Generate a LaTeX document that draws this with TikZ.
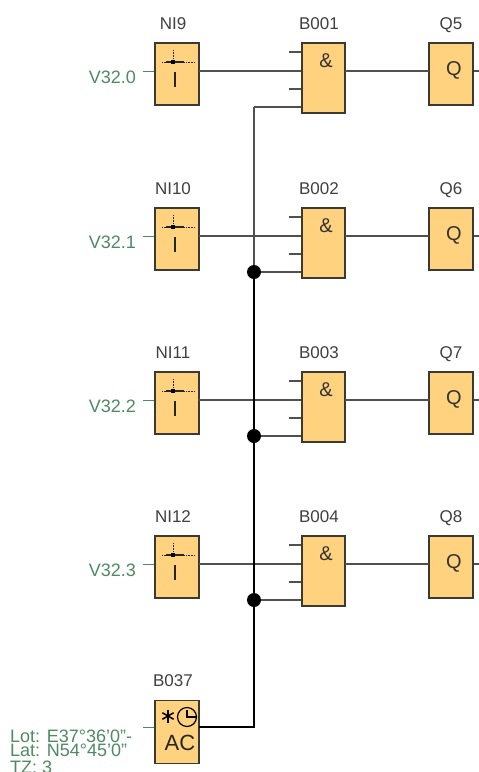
\documentclass[tikz,border=0pt]{standalone}
\usepackage{fontspec}
\setmainfont{Liberation Sans}
\usetikzlibrary{calc}
\definecolor{blockfill}{HTML}{FFD27F}
\definecolor{blockline}{HTML}{3A3A30}
\definecolor{wiregray}{HTML}{505050}
\definecolor{addrgreen}{HTML}{4F8A63}
\tikzset{
  block/.style={draw=blockline,fill=blockfill,line width=1.2pt,inner sep=0pt},
  wire/.style={draw=wiregray,line width=1.3pt},
  bus/.style={draw=black,line width=2.3pt},
  stub/.style={draw=addrgreen,line width=1pt},
  title/.style={font=\fontsize{17}{18}\selectfont,text=black!75,anchor=base},
  addr/.style={font=\fontsize{18}{18}\selectfont,text=addrgreen,inner sep=0pt},
  junction/.style={circle,fill=black,inner sep=0pt,minimum size=14pt}
}
\begin{document}
\begin{tikzpicture}[x=1pt,y=-1pt]
  \useasboundingbox (0,0) rectangle (479,772);
  \fill[white] (0,0) rectangle (479,772);
  % one row of the plan: y, names, titles, address
  \newcommand{\gaterow}[8]{%
    \node[block,minimum width=44pt,minimum height=62pt] (#2) at (177,#1+31) {};
    \node[block,minimum width=43pt,minimum height=70pt] (#3) at (323.5,#1+35) {};
    \node[block,minimum width=44pt,minimum height=62pt] (#4) at (451,#1+31) {};
    \node[title] (#2t) at (173,#1-14) {#5};
    \node[title] (#3t) at (319,#1-14) {#6};
    \node[title] (#4t) at (451,#1-14) {#7};
    \node[addr,anchor=east] (#2a) at (136,#1+34) {#8};
    \coordinate (#2s) at (143,#1+28);
    \coordinate (#2o) at (199,#1+28);
    \coordinate (#3p1) at (289,#1+9);
    \coordinate (#3p2) at (289,#1+27.5);
    \coordinate (#3p3) at (289,#1+46);
    \coordinate (#3p4) at (254,#1+64);
    \coordinate (#3o) at (345,#1+28);
    \coordinate (#4i) at (429,#1+28);
    \coordinate (#4o) at (479,#1+28);
    \draw[stub] (#2s) -- (#2s -| #2.west);
    \draw[wire] (#2o) -- (#2o -| #3.west);
    \draw[wire] (#3p1) -- (#3p1 -| #3.west);
    \draw[wire] (#3p3) -- (#3p3 -| #3.west);
    \draw[wire] (#3p4) -- (#3p4 -| #3.west);
    \draw[wire] (#3o) -- (#4i);
    \draw[wire] (#4.east |- #4o) -- (#4o);
    \node[font=\fontsize{20}{20}\selectfont,text=black!80] (#3g) at (326,#1+18) {\&};
    \node[font=\fontsize{20}{20}\selectfont,text=black!80] (#4g) at (454,#1+27) {Q};
    % input symbol
    \draw[black!85,line width=0.6pt,densely dotted] (162,#1+19) -- (195,#1+19);
    \draw[black!85,line width=1.2pt] (166,#1+19) -- (184,#1+19);
    \draw[black!85,line width=0.6pt,densely dotted] (173,#1+7) -- (173,#1+19);
    \fill[black] (171,#1+17) rectangle (175,#1+21);
    \draw[black!85,line width=1.5pt] (175,#1+29) -- (175,#1+44);
  }
  \gaterow{43}{ni9}{b001}{q5}{NI9}{B001}{Q5}{V32.0}
  \gaterow{208}{ni10}{b002}{q6}{NI10}{B002}{Q6}{V32.1}
  \gaterow{372}{ni11}{b003}{q7}{NI11}{B003}{Q7}{V32.2}
  \gaterow{536}{ni12}{b004}{q8}{NI12}{B004}{Q8}{V32.3}

  \node[block,minimum width=44pt,minimum height=63pt] (b037) at (177,732) {};
  \node[title] (b037t) at (173,686) {B037};
  \node[font=\fontsize{22}{22}\selectfont,text=black!85] (ac) at (180,743) {AC};
  \foreach \a in {0,60,120}
    \draw[black,line width=1.5pt] ($(168,716)+(90+\a:6.5)$) -- ($(168,716)+(270+\a:6.5)$);
  \draw[black,line width=1.2pt] (187,717) circle (9.5);
  \draw[black,line width=1.2pt] (187,710) -- (187,717) -- (196,717);
  \node[addr,anchor=base west] (lot) at (10,742) {Lot: E37°36'0"-};
  \node[addr,anchor=base west] (lat) at (10,756) {Lat: N54°45'0"};
  \node[addr,anchor=base west] (tz) at (10,773) {TZ: 3};
  \coordinate (b037s) at (143,727);
  \coordinate (b037o) at (199,727);
  \draw[stub] (b037s) -- (b037s -| b037.west);

  % clock line
  \node[junction] (j2) at (b002p4) {};
  \node[junction] (j3) at (b003p4) {};
  \node[junction] (j4) at (b004p4) {};
  \coordinate (corner) at (254,727);
  \draw[wire] (b001p4) -- (j2);
  \draw[bus] (j2) -- (j3);
  \draw[bus] (j3) -- (j4);
  \draw[bus] (j4) -- (corner) -- (b037o);
\end{tikzpicture}
\end{document}
